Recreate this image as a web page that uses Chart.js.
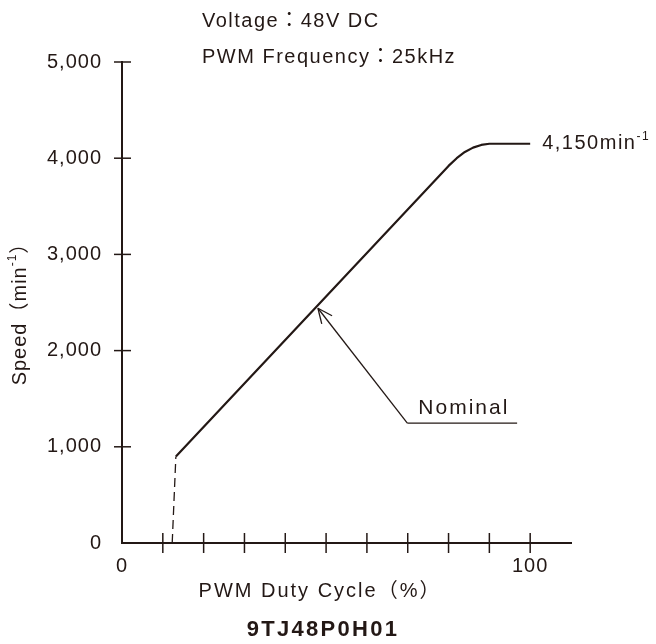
<!DOCTYPE html>
<html>
<head>
<meta charset="utf-8">
<script src="https://cdn.jsdelivr.net/npm/chart.js@4.4.1/dist/chart.umd.min.js"></script>
<style>
html, body { margin: 0; padding: 0; background: #fff; }
#wrap { width: 656px; height: 644px; }
</style>
</head>
<body>
<div id="wrap"><canvas id="chart"></canvas></div>
<script>
// data
const dutyCycle = [13.2, 80, 82, 84, 86, 88, 90, 100];
const speed = [900, 3920, 4000, 4065, 4110, 4138, 4150, 4150];
const startDuty = [12.3, 13.2];
const startSpeed = [0, 900];
const xTickLabels = [0, 100];
const nominalPoint = [48, 2440];
const nominalFoot = [69.9, 1247];
const nominalEnd = 96.8;
const maxSpeed = 4150;

const ink = '#231815';
const family = '"Liberation Sans", "Noto Sans CJK JP", sans-serif';

function toPoints(xs, ys) {
    return xs.map((x, i) => ({ x: x, y: ys[i] }));
}

// draws a run of text pieces: [text, size, raise, bold]
function richText(ctx, parts, x, y, align, spacing) {
    ctx.save();
    ctx.letterSpacing = spacing + 'px';
    ctx.textBaseline = 'middle';
    ctx.textAlign = 'left';
    ctx.fillStyle = ink;
    const fontOf = p => (p[3] ? 'bold ' : '') + p[1] + 'px ' + family;
    let width = 0;
    parts.forEach(p => { ctx.font = fontOf(p); width += ctx.measureText(p[0]).width; });
    let px = align === 'center' ? x - width / 2 : x;
    parts.forEach(p => {
        ctx.font = fontOf(p);
        ctx.fillText(p[0], px, y + (p[2] || 0));
        px += ctx.measureText(p[0]).width;
    });
    ctx.restore();
}

function segment(ctx, x1, y1, x2, y2) {
    ctx.beginPath();
    ctx.moveTo(x1, y1);
    ctx.lineTo(x2, y2);
    ctx.stroke();
}

const extras = {
    id: 'extras',
    beforeDraw(chart) {
        chart.ctx.letterSpacing = '1px';
    },
    afterDraw(chart) {
        const ctx = chart.ctx;
        const xs = chart.scales.x;
        const ys = chart.scales.y;
        ctx.save();
        ctx.strokeStyle = ink;
        ctx.lineWidth = 1.5;

        // tick marks crossing the axes
        xs.ticks.forEach(t => {
            if (t.value === 0 || t.value > 100) return;
            const px = xs.getPixelForValue(t.value);
            segment(ctx, px, ys.bottom - 10, px, ys.bottom + 10);
        });
        ys.ticks.forEach(t => {
            if (t.value === 0) return;
            const py = ys.getPixelForValue(t.value);
            segment(ctx, xs.left - 8, py, xs.left + 9, py);
        });

        // Nominal leader with open arrow
        const tipX = xs.getPixelForValue(nominalPoint[0]);
        const tipY = ys.getPixelForValue(nominalPoint[1]);
        const footX = xs.getPixelForValue(nominalFoot[0]);
        const footY = ys.getPixelForValue(nominalFoot[1]);
        const endX = xs.getPixelForValue(nominalEnd);
        ctx.lineWidth = 1.3;
        segment(ctx, footX, footY, tipX, tipY);
        segment(ctx, footX, footY, endX, footY);
        const ang = Math.atan2(footY - tipY, footX - tipX);
        [0.42, -0.42].forEach(d => {
            segment(ctx, tipX, tipY, tipX + 16 * Math.cos(ang + d), tipY + 16 * Math.sin(ang + d));
        });
        ctx.restore();

        richText(ctx, [['Nominal', 21]], footX + 11, footY - 15, 'left', 2);

        // end value label
        const endPx = xs.getPixelForValue(100);
        const topPy = ys.getPixelForValue(maxSpeed);
        richText(ctx, [['4,150min', 20], ['-1', 12, -7]], endPx + 12, topPy, 'left', 1.5);

        // condition notes
        richText(ctx, [['Voltage：48V DC', 20]], 202, 21, 'left', 1.5);
        richText(ctx, [['PWM Frequency：25kHz', 20]], 202, 57, 'left', 1.5);

        // axis titles
        richText(ctx, [['PWM Duty Cycle（%）', 20]], 320, 591, 'center', 2);
        richText(ctx, [['9TJ48P0H01', 22, 0, true]], 323, 630, 'center', 2.3);
        ctx.save();
        ctx.translate(20, 309);
        ctx.rotate(-Math.PI / 2);
        richText(ctx, [['Speed（min', 20], ['-1', 12, -7], ['）', 20]], 0, 0, 'center', 1);
        ctx.restore();
    }
};

Chart.defaults.font.family = family;
Chart.defaults.font.size = 20;
Chart.defaults.color = ink;

new Chart(document.getElementById('chart').getContext('2d'), {
    type: 'line',
    data: {
        datasets: [{
            data: toPoints(dutyCycle, speed),
            borderColor: ink,
            borderWidth: 2.2,
            borderJoinStyle: 'round',
            pointRadius: 0,
            fill: false
        }, {
            data: toPoints(startDuty, startSpeed),
            borderColor: ink,
            borderWidth: 1.3,
            borderDash: [9, 5],
            pointRadius: 0,
            fill: false
        }]
    },
    options: {
        responsive: true,
        maintainAspectRatio: false,
        animation: false,
        layout: { padding: { top: 62, right: 85, left: 0, bottom: 0 } },
        plugins: { legend: { display: false }, tooltip: { enabled: false } },
        scales: {
            x: {
                type: 'linear',
                min: 0,
                max: 110,
                grid: { display: false, drawTicks: false },
                border: { display: true, color: ink, width: 2 },
                ticks: {
                    stepSize: 10,
                    autoSkip: false,
                    maxRotation: 0,
                    padding: 11,
                    callback: v => xTickLabels.includes(v) ? String(v) : ''
                },
                afterFit: scale => { scale.height = 101; }
            },
            y: {
                min: 0,
                max: 5000,
                grid: { display: false, drawTicks: false },
                border: { display: true, color: ink, width: 2 },
                ticks: {
                    stepSize: 1000,
                    padding: 20,
                    callback: v => v.toLocaleString('en-US')
                },
                afterFit: scale => { scale.width = 122; }
            }
        }
    },
    plugins: [extras]
});
</script>
</body>
</html>
